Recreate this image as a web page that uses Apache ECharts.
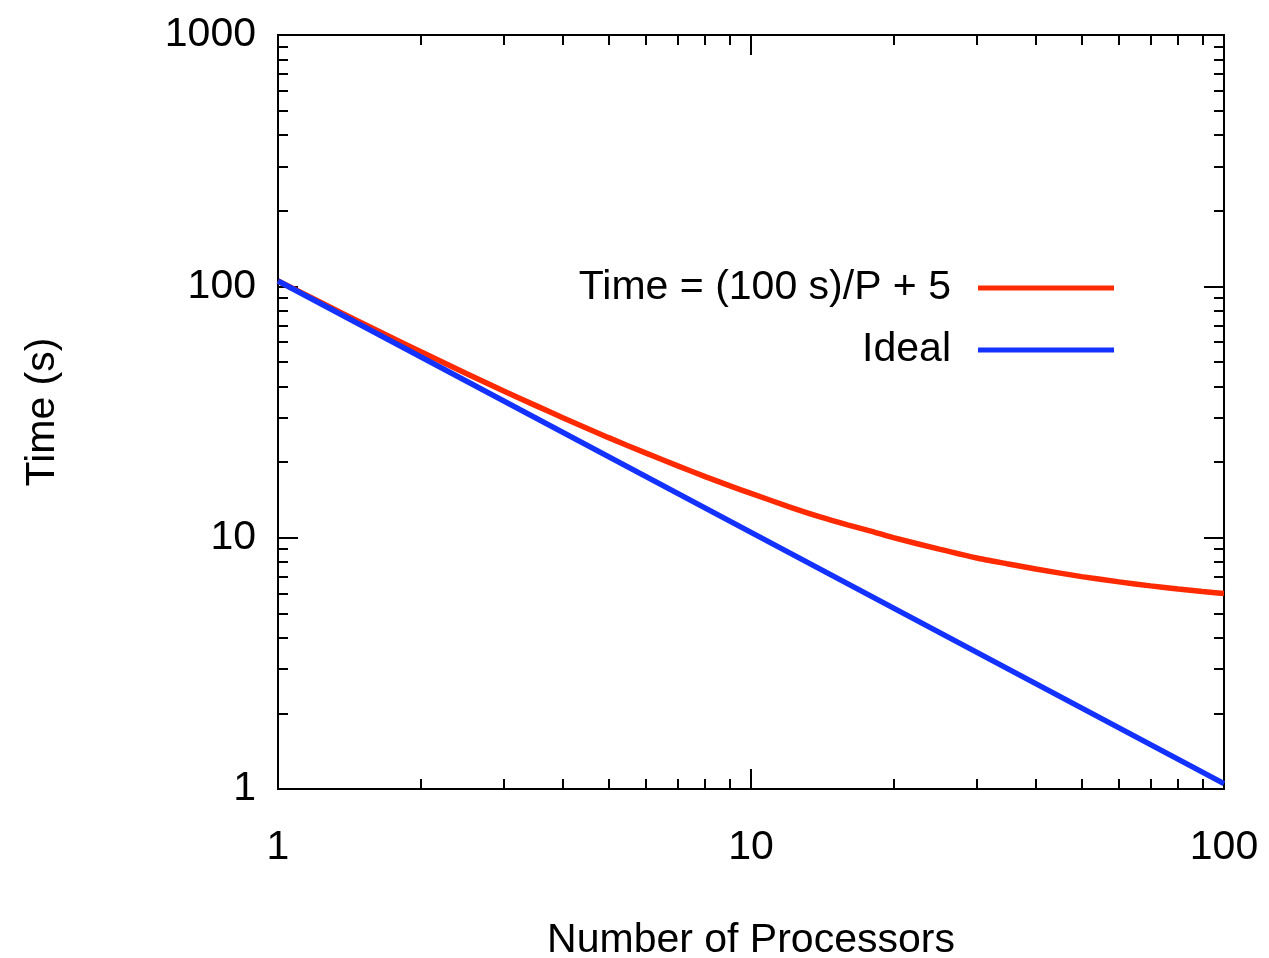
<!DOCTYPE html>
<html>
<head>
<meta charset="utf-8">
<script src="https://cdn.jsdelivr.net/npm/echarts@6/dist/echarts.min.js"></script>
<style>
  html, body { margin: 0; padding: 0; background: #fff; }
  #chart { width: 1269px; height: 958px; }
</style>
</head>
<body>
<div id="chart"></div>
<script>
(function() {
	'use strict';

	// processors (x) and times (y)
	var procs = [1, 1.25, 1.5, 1.75, 2, 2.5, 3, 3.5, 4, 5, 6, 7, 8, 9, 10, 12, 14, 16, 18, 20, 25, 30, 35, 40, 50, 60, 70, 80, 90, 100];
	var timeModel = [105, 85, 71.7, 62.1, 55, 45, 38.3, 33.6, 30, 25, 21.7, 19.3, 17.5, 16.1, 15, 13.3, 12.1, 11.25, 10.6, 10, 9, 8.3, 7.86, 7.5, 7, 6.67, 6.43, 6.25, 6.11, 6];
	var idealProcs = [1, 10, 100];
	var timeIdeal = [105, 10.5, 1.05];

	var xMajor = [1, 10, 100];
	var xMinor = [2, 3, 4, 5, 6, 7, 8, 9, 20, 30, 40, 50, 60, 70, 80, 90];
	var yMajor = [1, 10, 100, 1000];
	var yMinor = [2, 3, 4, 5, 6, 7, 8, 9, 20, 30, 40, 50, 60, 70, 80, 90, 200, 300, 400, 500, 600, 700, 800, 900];

	var FONT = 'Liberation Sans';
	var lineStyle = { color: '#000', width: 2 };

	function pairs(xs, ys) {
		return xs.map(function(x, i) { return [x, ys[i]]; });
	}
	function plain(v) { return String(v); }

	function xAxisOf(pos, ticks, len, labels) {
		return {
			type: 'log', logBase: 10, min: 1, max: 100, position: pos,
			axisLine: { show: true, onZero: false, lineStyle: lineStyle },
			axisTick: { show: true, inside: true, length: len, customValues: ticks, lineStyle: lineStyle },
			axisLabel: labels ? {
				show: true, customValues: xMajor, margin: 38, formatter: plain,
				fontFamily: FONT, fontSize: 41, color: '#000'
			} : { show: false },
			minorTick: { show: false },
			splitLine: { show: false }
		};
	}
	function yAxisOf(pos, ticks, len, labels) {
		return {
			type: 'log', logBase: 10, min: 1, max: 1000, position: pos,
			axisLine: { show: true, onZero: false, lineStyle: lineStyle },
			axisTick: { show: true, inside: true, length: len, customValues: ticks, lineStyle: lineStyle },
			axisLabel: labels ? {
				show: true, customValues: yMajor, margin: 22, formatter: plain,
				fontFamily: FONT, fontSize: 41, color: '#000'
			} : { show: false },
			minorTick: { show: false },
			splitLine: { show: false }
		};
	}

	var xBottom = xAxisOf('bottom', xMajor, 20, true);
	xBottom.name = 'Number of Processors';
	xBottom.nameLocation = 'middle';
	xBottom.nameGap = 131;
	xBottom.nameTextStyle = { fontFamily: FONT, fontSize: 41, color: '#000' };

	var yLeft = yAxisOf('left', yMajor, 20, true);
	yLeft.name = 'Time (s)';
	yLeft.nameLocation = 'middle';
	yLeft.nameGap = 215;
	yLeft.nameTextStyle = { fontFamily: FONT, fontSize: 41, color: '#000' };

	var legendText = { fontFamily: FONT, fontSize: 41, color: '#000', lineHeight: 44, padding: [0, 22, 0, 0] };

	var option = {
		animation: false,
		backgroundColor: '#fff',
		grid: { left: 278, right: 45, top: 35, bottom: 169, outerBoundsMode: 'none', containLabel: false },
		legend: [
			{
				data: ['Time = (100 s)/P + 5'], right: 150, top: 261, align: 'right',
				icon: 'rect', itemWidth: 136, itemHeight: 5, textStyle: legendText
			},
			{
				data: ['Ideal'], right: 150, top: 323, align: 'right',
				icon: 'rect', itemWidth: 136, itemHeight: 5, textStyle: legendText
			}
		],
		xAxis: [
			xBottom,
			xAxisOf('bottom', xMinor, 10, false),
			xAxisOf('top', xMajor, 20, false),
			xAxisOf('top', xMinor, 10, false)
		],
		yAxis: [
			yLeft,
			yAxisOf('left', yMinor, 10, false),
			yAxisOf('right', yMajor, 20, false),
			yAxisOf('right', yMinor, 10, false)
		],
		series: [
			{
				name: 'Time = (100 s)/P + 5',
				type: 'line',
				data: pairs(procs, timeModel),
				showSymbol: false,
				smooth: 0.2,
				lineStyle: { width: 5.5, color: '#ff2a00' },
				itemStyle: { color: '#ff2a00' }
			},
			{
				name: 'Ideal',
				type: 'line',
				data: pairs(idealProcs, timeIdeal),
				showSymbol: false,
				lineStyle: { width: 5.5, color: '#1432ff' },
				itemStyle: { color: '#1432ff' }
			}
		]
	};

	var chart = echarts.init(document.getElementById('chart'));
	chart.setOption(option);
})();
</script>
</body>
</html>
